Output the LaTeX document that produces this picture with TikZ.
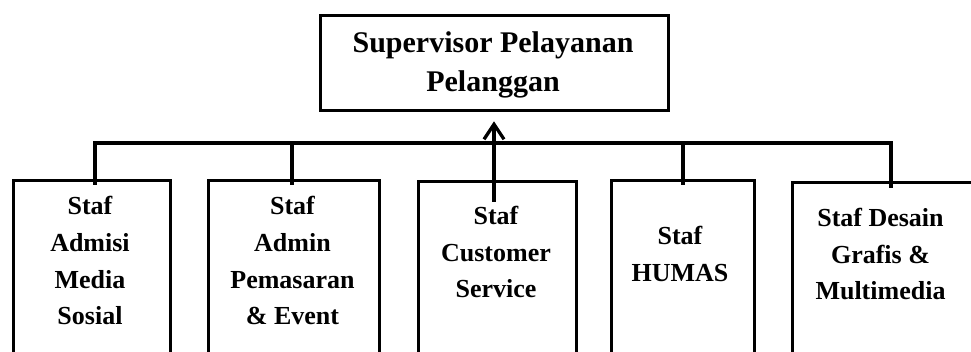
\documentclass[tikz,border=0pt]{standalone}
\usepackage{fontspec}
\setmainfont{Liberation Serif}
\usetikzlibrary{arrows.meta}
\begin{document}
\begin{tikzpicture}[x=1pt,y=-1pt,
  box/.style={draw, line width=3.3pt, inner sep=0pt, anchor=north west},
  conn/.style={line width=3.3pt},
  lbl/.style={font=\bfseries\fontsize{26}{36.7}\selectfont, align=center, anchor=base, inner sep=0pt},
  toplbl/.style={font=\bfseries\fontsize{30}{39}\selectfont, align=center, anchor=base, inner sep=0pt}]
\useasboundingbox (0,0) rectangle (971,352);
% boxes
\node[box, minimum width=348pt, minimum height=95pt] (top) at (319,14) {};
\node[box, minimum width=157pt, minimum height=220pt] (b1) at (12,179) {};
\node[box, minimum width=171pt, minimum height=220pt] (b2) at (207,179) {};
\node[box, minimum width=158pt, minimum height=220pt] (b3) at (417,180) {};
\node[box, minimum width=143pt, minimum height=220pt] (b4) at (610,179) {};
\node[box, minimum width=220pt, minimum height=220pt] (b5) at (791,181) {};
% texts (anchor base = baseline of the last line)
\node[toplbl] (ttop) at (493,92) {Supervisor Pelayanan\\Pelanggan};
\node[lbl] (t1) at (90,325) {Staf\\Admisi\\Media\\Sosial};
\node[lbl] (t2) at (292.5,325) {Staf\\Admin\\Pemasaran\\\& Event};
\node[lbl] (t3) at (496,298) {Staf\\Customer\\Service};
\node[lbl] (t4) at (680,281.7) {Staf\\HUMAS};
\node[lbl] (t5) at (880.5,300) {Staf Desain\\Grafis \&\\Multimedia};
% connectors
\coordinate (j1) at (95,185);
\coordinate (j2) at (292,185);
\coordinate (j3) at (494,202);
\coordinate (j4) at (683,185);
\coordinate (j5) at (891,188);
\coordinate (bus) at (95,143);
\draw[conn] (j1) -- (bus) -| (j5);
\draw[conn] (j2) -- (j2 |- bus);
\draw[conn] (j4) -- (j4 |- bus);
\draw[conn, -{Straight Barb[length=15pt,width=20pt]}, shorten >=9pt] (j3) -- (top.south -| j3);
\end{tikzpicture}
\end{document}
